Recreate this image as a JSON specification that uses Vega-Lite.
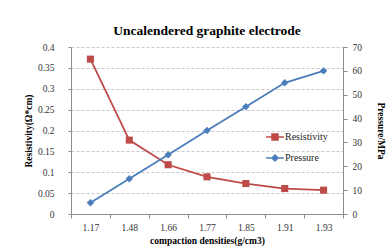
{
  "$schema": "https://vega.github.io/schema/vega-lite/v6.json",
  "width": 272,
  "height": 167,
  "autosize": {"type": "none"},
  "padding": {"left": 71, "top": 47, "right": 49, "bottom": 38},
  "background": "white",
  "title": {
    "text": "Uncalendered graphite electrode",
    "font": "Liberation Serif",
    "fontSize": 13.5,
    "fontWeight": "bold",
    "color": "black",
    "anchor": "middle",
    "offset": 5
  },
  "config": {
    "view": {"stroke": null},
    "axis": {
      "labelFont": "Liberation Serif",
      "labelFontSize": 9.5,
      "labelColor": "#333333",
      "titleFont": "Liberation Serif",
      "titleFontSize": 9.5,
      "titleFontWeight": "bold",
      "titleColor": "black",
      "domainColor": "#8c8c8c",
      "tickColor": "#8c8c8c"
    }
  },
  "data": {
    "values": [
      {"density": "1.17", "series": "Resistivity", "value": 0.371},
      {"density": "1.48", "series": "Resistivity", "value": 0.177},
      {"density": "1.66", "series": "Resistivity", "value": 0.118},
      {"density": "1.77", "series": "Resistivity", "value": 0.089},
      {"density": "1.85", "series": "Resistivity", "value": 0.073},
      {"density": "1.91", "series": "Resistivity", "value": 0.061},
      {"density": "1.93", "series": "Resistivity", "value": 0.057},
      {"density": "1.17", "series": "Pressure", "value": 4.7},
      {"density": "1.48", "series": "Pressure", "value": 14.8},
      {"density": "1.66", "series": "Pressure", "value": 24.8},
      {"density": "1.77", "series": "Pressure", "value": 35},
      {"density": "1.85", "series": "Pressure", "value": 45},
      {"density": "1.91", "series": "Pressure", "value": 55},
      {"density": "1.93", "series": "Pressure", "value": 60}
    ]
  },
  "encoding": {
    "x": {
      "field": "density",
      "type": "ordinal",
      "sort": null,
      "scale": {"type": "band", "paddingInner": 0, "paddingOuter": 0},
      "axis": {
        "title": "compaction densities(g/cm3)",
        "labelFont": "Liberation Serif",
        "labelAngle": 0,
        "tickBand": "extent",
        "tickSize": 4,
        "labelPadding": 4,
        "titlePadding": 4
      }
    },
    "color": {
      "field": "series",
      "type": "nominal",
      "scale": {"domain": ["Resistivity", "Pressure"], "range": ["#be4b48", "#4a7ebb"]},
      "legend": {
        "title": null,
        "orient": "none",
        "legendX": 194,
        "legendY": 80,
        "labelFont": "Liberation Serif",
        "labelFontSize": 10,
        "labelColor": "#222222",
        "symbolSize": 320,
        "symbolStrokeWidth": 1.6,
        "rowPadding": 4,
        "labelOffset": 0,
        "encode": {
          "symbols": {
            "update": {
              "shape": {"signal": "datum.value === 'Resistivity' ? 'M-1,0H1M-0.33,-0.33H0.33V0.33H-0.33Z' : 'M-1,0H1M0,-0.33L0.33,0L0,0.33L-0.33,0Z'"},
              "fill": {"scale": "color", "field": "value"},
              "stroke": {"scale": "color", "field": "value"}
            }
          }
        }
      }
    }
  },
  "layer": [
    {
      "transform": [{"filter": "datum.series === 'Resistivity'"}],
      "encoding": {
        "y": {
          "field": "value",
          "type": "quantitative",
          "scale": {"domain": [0, 0.4], "nice": false},
          "axis": {
            "title": "Resistivity(Ω*cm)",
            "labelFont": "Liberation Serif",
            "values": [0, 0.05, 0.1, 0.15, 0.2, 0.25, 0.3, 0.35, 0.4],
            "format": "~g",
            "tickSize": 3,
            "labelPadding": 14,
            "titlePadding": 4,
            "grid": true,
            "gridDash": [3, 2],
            "gridColor": "#c8c8c8"
          }
        }
      },
      "layer": [
        {"mark": {"type": "line", "strokeWidth": 1.8}},
        {"mark": {"type": "point", "shape": "square", "filled": true, "size": 50, "opacity": 1}}
      ]
    },
    {
      "transform": [{"filter": "datum.series === 'Pressure'"}],
      "encoding": {
        "y": {
          "field": "value",
          "type": "quantitative",
          "scale": {"domain": [0, 70], "nice": false},
          "axis": {
            "orient": "right",
            "title": "Pressure/MPa",
            "labelFont": "Liberation Serif",
            "values": [0, 10, 20, 30, 40, 50, 60, 70],
            "tickSize": 4,
            "labelPadding": 5,
            "titlePadding": 14,
            "grid": false
          }
        }
      },
      "layer": [
        {"mark": {"type": "line", "strokeWidth": 1.8}},
        {"mark": {"type": "point", "shape": "diamond", "filled": true, "size": 55, "opacity": 1}}
      ]
    }
  ],
  "resolve": {"scale": {"y": "independent"}}
}
